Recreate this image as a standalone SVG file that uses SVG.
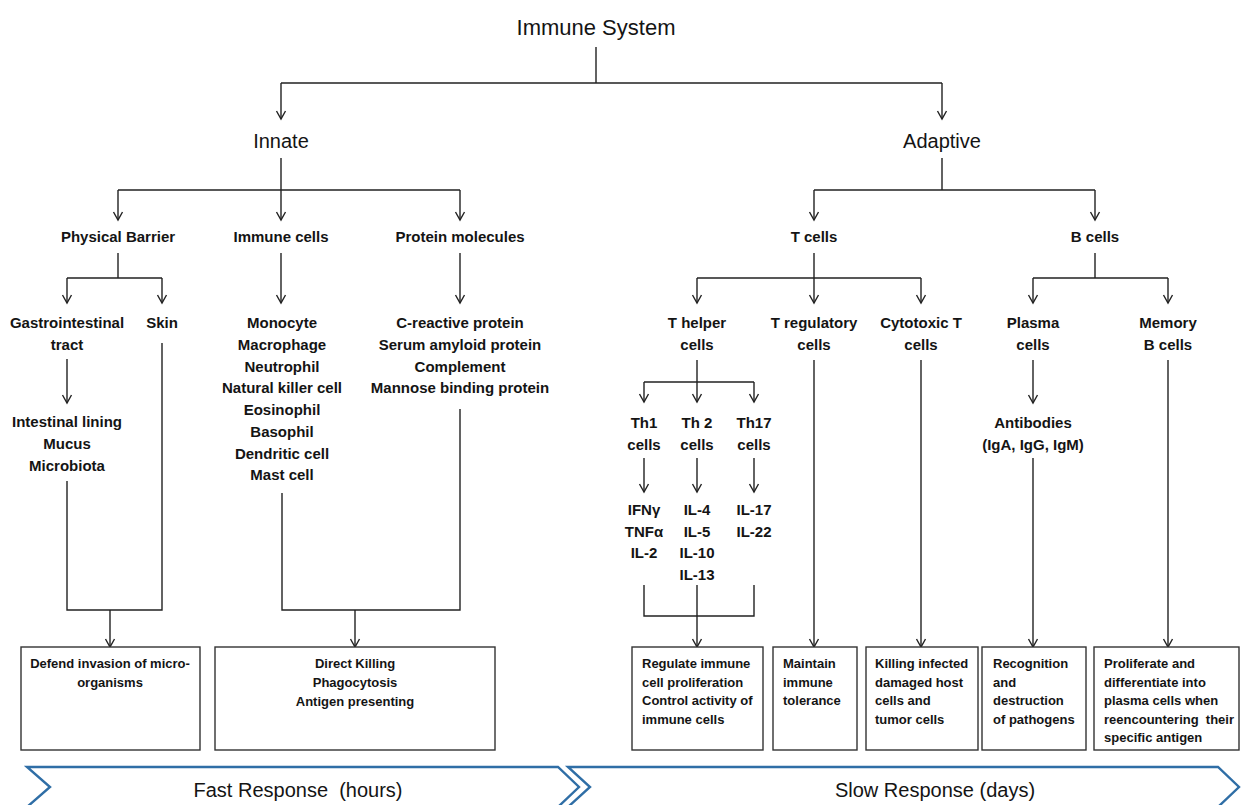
<svg xmlns="http://www.w3.org/2000/svg" width="1241" height="805" viewBox="0 0 1241 805">
<defs>
<marker id="arr" viewBox="-10 -6 12 12" refX="0" refY="0" markerWidth="12" markerHeight="12" markerUnits="userSpaceOnUse" orient="auto">
<path d="M-8,-4.5 L0,0 L-8,4.5" fill="none" stroke="#222" stroke-width="1.4"/>
</marker>
<style>
text{font-family:"Liberation Sans",Arial,sans-serif;fill:#141414}
.t{font-size:22px}
.h{font-size:20px}
.l{font-size:15px;font-weight:bold;text-anchor:middle}
.b{font-size:13px;font-weight:bold}
.c{text-anchor:middle}
.r{font-size:20px;text-anchor:middle}
.box{fill:#fff;stroke:#333;stroke-width:1.4}
.ln{fill:none;stroke:#222;stroke-width:1.4}
.ar{fill:none;stroke:#222;stroke-width:1.4;marker-end:url(#arr)}
.chev{fill:#fff;stroke:#2f6ea6;stroke-width:2.4}
</style>
</defs>
<rect width="1241" height="805" fill="#fff"/>

<g id="connectors">
<path class="ln" d="M596,47 V83 M281,83 H942"/>
<path class="ar" d="M281,83 V119"/>
<path class="ar" d="M942,83 V119"/>
<path class="ln" d="M281,158 V190 M118,190 H460"/>
<path class="ar" d="M118,190 V220"/>
<path class="ar" d="M281,190 V220"/>
<path class="ar" d="M460,190 V220"/>
<path class="ln" d="M942,158 V190 M814,190 H1095"/>
<path class="ar" d="M814,190 V220"/>
<path class="ar" d="M1095,190 V220"/>
<path class="ln" d="M118,253 V278 M67,278 H162"/>
<path class="ar" d="M67,278 V303"/>
<path class="ar" d="M162,278 V303"/>
<path class="ar" d="M281,253 V303"/>
<path class="ar" d="M460,253 V303"/>
<path class="ln" d="M814,253 V278 M697,278 H921"/>
<path class="ar" d="M697,278 V303"/>
<path class="ar" d="M814,278 V303"/>
<path class="ar" d="M921,278 V303"/>
<path class="ln" d="M1095,253 V278 M1033,278 H1168"/>
<path class="ar" d="M1033,278 V303"/>
<path class="ar" d="M1168,278 V303"/>
<path class="ar" d="M67,359 V403"/>
<path class="ln" d="M67,481 V610 H162 V343"/>
<path class="ar" d="M110,610 V647"/>
<path class="ln" d="M282,493 V610 H460 V409"/>
<path class="ar" d="M355,610 V647"/>
<path class="ln" d="M697,360 V382 M644,382 H754"/>
<path class="ar" d="M644,382 V402"/>
<path class="ar" d="M697,382 V402"/>
<path class="ar" d="M754,382 V402"/>
<path class="ar" d="M644,458 V492"/>
<path class="ar" d="M697,458 V492"/>
<path class="ar" d="M754,458 V492"/>
<path class="ln" d="M644,585 V616 H754 V585"/>
<path class="ar" d="M697,585 V647"/>
<path class="ar" d="M814,360 V647"/>
<path class="ar" d="M921,360 V647"/>
<path class="ar" d="M1033,360 V403"/>
<path class="ar" d="M1033,458 V647"/>
<path class="ar" d="M1168,360 V647"/>
</g>

<g id="immune-system"><text class="t c" x="596" y="35">Immune System</text></g>
<g id="innate"><text class="h c" x="281" y="148">Innate</text></g>
<g id="adaptive"><text class="h c" x="942" y="148">Adaptive</text></g>

<g id="physical-barrier"><text class="l" x="118" y="242">Physical Barrier</text></g>
<g id="immune-cells"><text class="l" x="281" y="242">Immune cells</text></g>
<g id="protein-molecules"><text class="l" x="460" y="242">Protein molecules</text></g>
<g id="t-cells"><text class="l" x="814" y="242">T cells</text></g>
<g id="b-cells"><text class="l" x="1095" y="242">B cells</text></g>

<g id="gastrointestinal"><text class="l" x="67" y="328">Gastrointestinal</text><text class="l" x="67" y="350">tract</text></g>
<g id="skin"><text class="l" x="162" y="328">Skin</text></g>
<g id="gi-components"><text class="l" x="67" y="427">Intestinal lining</text><text class="l" x="67" y="449">Mucus</text><text class="l" x="67" y="471">Microbiota</text></g>
<g id="cell-list">
<text class="l" x="282" y="328">Monocyte</text>
<text class="l" x="282" y="350">Macrophage</text>
<text class="l" x="282" y="371.5">Neutrophil</text>
<text class="l" x="282" y="393">Natural killer cell</text>
<text class="l" x="282" y="415">Eosinophil</text>
<text class="l" x="282" y="437">Basophil</text>
<text class="l" x="282" y="458.5">Dendritic cell</text>
<text class="l" x="282" y="480">Mast cell</text>
</g>
<g id="protein-list">
<text class="l" x="460" y="328">C-reactive protein</text>
<text class="l" x="460" y="350">Serum amyloid protein</text>
<text class="l" x="460" y="371.5">Complement</text>
<text class="l" x="460" y="393">Mannose binding protein</text>
</g>

<g id="t-helper"><text class="l" x="697" y="328">T helper</text><text class="l" x="697" y="350">cells</text></g>
<g id="t-regulatory"><text class="l" x="814" y="328">T regulatory</text><text class="l" x="814" y="350">cells</text></g>
<g id="cytotoxic-t"><text class="l" x="921" y="328">Cytotoxic T</text><text class="l" x="921" y="350">cells</text></g>
<g id="plasma-cells"><text class="l" x="1033" y="328">Plasma</text><text class="l" x="1033" y="350">cells</text></g>
<g id="memory-b"><text class="l" x="1168" y="328">Memory</text><text class="l" x="1168" y="350">B cells</text></g>

<g id="th1"><text class="l" x="644" y="428">Th1</text><text class="l" x="644" y="450">cells</text></g>
<g id="th2"><text class="l" x="697" y="428">Th 2</text><text class="l" x="697" y="450">cells</text></g>
<g id="th17"><text class="l" x="754" y="428">Th17</text><text class="l" x="754" y="450">cells</text></g>
<g id="th1-cytokines"><text class="l" x="644" y="515">IFNγ</text><text class="l" x="644" y="537">TNFα</text><text class="l" x="644" y="558">IL-2</text></g>
<g id="th2-cytokines"><text class="l" x="697" y="515">IL-4</text><text class="l" x="697" y="537">IL-5</text><text class="l" x="697" y="558">IL-10</text><text class="l" x="697" y="580">IL-13</text></g>
<g id="th17-cytokines"><text class="l" x="754" y="515">IL-17</text><text class="l" x="754" y="537">IL-22</text></g>
<g id="antibodies"><text class="l" x="1033" y="428">Antibodies</text><text class="l" x="1033" y="450">(IgA, IgG, IgM)</text></g>

<g id="box-defend">
<rect class="box" x="21" y="647" width="179" height="103"/>
<text class="b c" x="110" y="668">Defend invasion of micro-</text>
<text class="b c" x="110" y="687">organisms</text>
</g>
<g id="box-killing">
<rect class="box" x="215" y="647" width="280" height="103"/>
<text class="b c" x="355" y="668">Direct Killing</text>
<text class="b c" x="355" y="687">Phagocytosis</text>
<text class="b c" x="355" y="706">Antigen presenting</text>
</g>
<g id="box-regulate">
<rect class="box" x="632" y="647" width="131" height="103"/>
<text class="b" x="642" y="668">Regulate immune</text>
<text class="b" x="642" y="686.5">cell proliferation</text>
<text class="b" x="642" y="705">Control activity of</text>
<text class="b" x="642" y="723.5">immune cells</text>
</g>
<g id="box-tolerance">
<rect class="box" x="773" y="647" width="84" height="103"/>
<text class="b" x="783" y="668">Maintain</text>
<text class="b" x="783" y="686.5">immune</text>
<text class="b" x="783" y="705">tolerance</text>
</g>
<g id="box-cytotoxic">
<rect class="box" x="866" y="647" width="112" height="103"/>
<text class="b" x="875" y="668">Killing infected</text>
<text class="b" x="875" y="686.5">damaged host</text>
<text class="b" x="875" y="705">cells and</text>
<text class="b" x="875" y="723.5">tumor cells</text>
</g>
<g id="box-recognition">
<rect class="box" x="982" y="647" width="104" height="103"/>
<text class="b" x="993" y="668">Recognition</text>
<text class="b" x="993" y="686.5">and</text>
<text class="b" x="993" y="705">destruction</text>
<text class="b" x="993" y="723.5">of pathogens</text>
</g>
<g id="box-memory">
<rect class="box" x="1094" y="647" width="145" height="103"/>
<text class="b" x="1104" y="668">Proliferate and</text>
<text class="b" x="1104" y="686.5">differentiate into</text>
<text class="b" x="1104" y="705">plasma cells when</text>
<text class="b" x="1104" y="723.5" xml:space="preserve">reencountering  their</text>
<text class="b" x="1104" y="742">specific antigen</text>
</g>

<g id="fast-response">
<polygon class="chev" points="27,767 558,767 579,787 558,807 27,807 50,787"/>
<text class="r" x="298" y="797" xml:space="preserve">Fast Response  (hours)</text>
</g>
<g id="slow-response">
<polygon class="chev" points="568,767 1218,767 1239,787 1218,807 568,807 590,787"/>
<text class="r" x="935" y="797">Slow Response (days)</text>
</g>
</svg>
